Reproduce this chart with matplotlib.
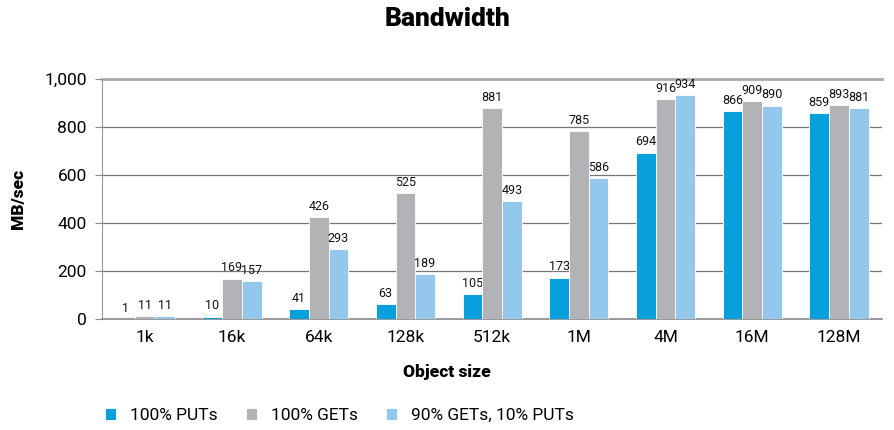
import matplotlib
matplotlib.use("Agg")
import matplotlib.pyplot as plt
import numpy as np

sizes = ["1k", "16k", "64k", "128k", "512k", "1M", "4M", "16M", "128M"]
puts = [1, 10, 41, 63, 105, 173, 694, 866, 859]
gets = [11, 169, 426, 525, 881, 785, 916, 909, 893]
mixed = [11, 157, 293, 189, 493, 586, 934, 890, 881]
series_names = ["100% PUTs", "100% GETs", "90% GETs, 10% PUTs"]
colors = ["#08a0dc", "#b1b3b6", "#93c8ec"]

plt.rcParams["font.family"] = ["Roboto", "DejaVu Sans"]

fig = plt.figure(figsize=(8.94, 4.30), dpi=100)
ax = fig.add_axes([0.114, 0.258, 0.873, 0.558])

x = np.arange(len(sizes))
w = 0.227
for i, (vals, name, c) in enumerate(zip([puts, gets, mixed], series_names, colors)):
    bars = ax.bar(x + (i - 1) * w, vals, w, color=c, edgecolor="white",
                  linewidth=0.6, label=name, zorder=3)
    for b, v in zip(bars, vals):
        ax.annotate(str(v), (b.get_x() + b.get_width() / 2, v),
                    xytext=(0, 3), textcoords="offset points",
                    ha="center", va="bottom", fontsize=9, color="#111111")

ax.set_xlim(-0.5, len(sizes) - 0.5)
ax.set_ylim(0, 1000)
ax.set_yticks([0, 200, 400, 600, 800, 1000])
ax.set_yticklabels(["0", "200", "400", "600", "800", "1,000"])
ax.set_xticks(x)
ax.set_xticklabels(sizes)
ax.tick_params(axis="y", length=5, color="#888888", labelsize=12.5, pad=6)
ax.tick_params(axis="x", length=0, labelsize=12.5, pad=8)

for y in [200, 400, 600, 800]:
    ax.axhline(y, color="#777777", lw=0.9, zorder=1)
ax.axhline(1000, color="#aaaaaa", lw=2, zorder=1, clip_on=False)

for s in ["top", "right"]:
    ax.spines[s].set_visible(False)
ax.spines["left"].set_color("#999999")
ax.spines["bottom"].set_color("#888888")
ax.spines["bottom"].set_linewidth(1.2)

fig.text(0.5, 0.955, "Bandwidth", ha="center", va="center",
         fontsize=19, fontweight="heavy")
ax.set_ylabel("MB/sec", fontsize=12.5, fontweight="heavy", labelpad=13)
fig.text(0.5, 0.135, "Object size", ha="center", va="center",
         fontsize=12.5, fontweight="heavy")

fig.legend(loc="center left", bbox_to_anchor=(0.1, 0.033), ncol=3,
           frameon=False, fontsize=12.5, handlelength=0.65, handleheight=0.65,
           columnspacing=1.6, handletextpad=0.8)

fig.savefig("out.png", dpi=100)
